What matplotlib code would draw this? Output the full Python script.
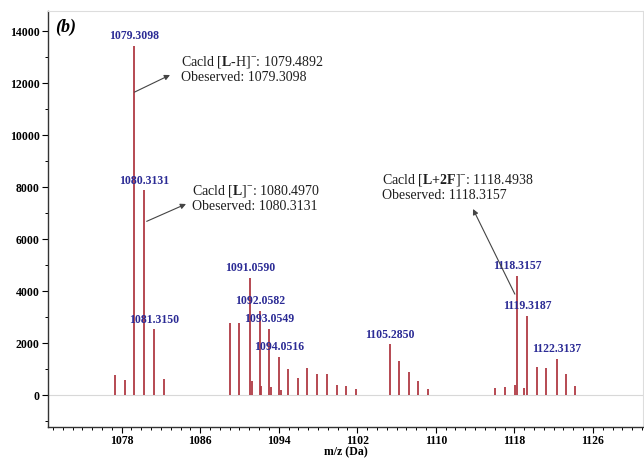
import matplotlib
matplotlib.use('Agg')
import matplotlib.pyplot as plt
from matplotlib.ticker import MultipleLocator

plt.rcParams['font.family'] = ['Liberation Serif', 'DejaVu Serif']
plt.rcParams['mathtext.fontset'] = 'custom'
plt.rcParams['mathtext.rm'] = 'Liberation Serif'
plt.rcParams['mathtext.bf'] = 'Liberation Serif:bold'

# ========== 数据 ==========
mz = [1077.32, 1078.34, 1079.3098, 1080.3131, 1081.3150, 1082.31,
      1089.03, 1089.98, 1091.0590, 1091.24, 1092.0582, 1092.22,
      1093.0549, 1093.20, 1094.0516, 1094.19, 1094.93, 1095.92,
      1096.90, 1097.89, 1098.88, 1099.89, 1100.84, 1101.86,
      1105.2850, 1106.27, 1107.25, 1108.23, 1109.22,
      1116.04, 1117.03, 1118.02, 1118.3157, 1118.99, 1119.3187,
      1120.26, 1121.24, 1122.3137, 1123.21, 1124.19]
intensity = [770, 577, 13420, 7870, 2530, 615,
             2760, 2760, 4510, 540, 3240, 350,
             2550, 300, 1470, 190, 990, 640,
             1030, 810, 810, 390, 350, 220,
             1950, 1310, 900, 550, 220,
             260, 320, 390, 4590, 260, 3040,
             1090, 1030, 1390, 810, 350]

labeled_peaks = [1079.3098, 1080.3131, 1081.3150, 1091.0590, 1092.0582,
                 1093.0549, 1094.0516, 1105.2850, 1118.3157, 1119.3187,
                 1122.3137]

x_ticks = [1078, 1086, 1094, 1102, 1110, 1118, 1126]
y_ticks = [0, 2000, 4000, 6000, 8000, 10000, 12000, 14000]

notes = [
    (r'Cacld [$\mathbf{L}$-H]$^{-}$: 1079.4892' + '\nObeserved: 1079.3098', 181, 69),
    (r'Cacld [$\mathbf{L}$]$^{-}$: 1080.4970' + '\nObeserved: 1080.3131', 192, 198),
    (r'Cacld [$\mathbf{L{+}2F}$]$^{-}$: 1118.4938' + '\nObeserved: 1118.3157', 382, 187),
]

line_color = '#b03a44'
label_color = '#2b2b95'

fig = plt.figure(figsize=(6.44, 4.59), dpi=100)
ax = fig.add_axes([48 / 644, 32 / 459, 595 / 644, 416 / 459])

ax.vlines(mz, 0, intensity, color=line_color, linewidth=1.3)
ax.axhline(0, color='#d8d8d8', linewidth=0.8, zorder=0)

for x, y in zip(mz, intensity):
    if x in labeled_peaks:
        ax.annotate(f'{x:.4f}', xy=(x, y), xytext=(0, 7), textcoords='offset points',
                    ha='center', va='center', fontsize=8.5, fontweight='bold',
                    color=label_color)

# 注释文本（像素坐标 -> 图坐标）
for text, px, py in notes:
    ax.text(px / 644, 1 - py / 459, text, transform=fig.transFigure, fontsize=10,
            ha='left', va='center', color='#1e1e1e', linespacing=1.1)

arrows = [((1079.3098, 11650), (170, 75)),
          ((1080.55, 6680), (186, 204)),
          ((1118.05, 3880), (473, 209))]
for (x0, y0), (hx, hy) in arrows:
    ax.annotate('', xy=(hx / 644, 1 - hy / 459), xycoords='figure fraction',
                xytext=(x0, y0), textcoords='data',
                arrowprops=dict(arrowstyle='-|>', color='#444444', lw=0.8,
                                mutation_scale=8, shrinkA=0, shrinkB=0))

ax.text(0.012, 0.96, '(b)', transform=ax.transAxes, fontsize=13,
        fontweight='bold', fontstyle='italic', ha='left', va='center')

ax.set_xlim(1070.5, 1131.1)
ax.set_ylim(-1230, 14770)
ax.set_xticks(x_ticks)
ax.set_yticks(y_ticks)
ax.xaxis.set_minor_locator(MultipleLocator(1))
ax.yaxis.set_minor_locator(MultipleLocator(1000))
ax.tick_params(axis='both', which='major', direction='out', length=4, width=0.8,
               labelsize=8.5, pad=2)
ax.tick_params(axis='both', which='minor', direction='out', length=2.5, width=0.7)
for lab in ax.get_xticklabels() + ax.get_yticklabels():
    lab.set_fontweight('bold')

ax.set_xlabel('m/z (Da)', fontsize=8.5, fontweight='bold', labelpad=-1)

for side in ['top', 'right']:
    ax.spines[side].set_color('#dddddd')
    ax.spines[side].set_linewidth(0.8)
for side in ['left', 'bottom']:
    ax.spines[side].set_color('#333333')
    ax.spines[side].set_linewidth(1.0)

plt.savefig('out.png', dpi=100)
